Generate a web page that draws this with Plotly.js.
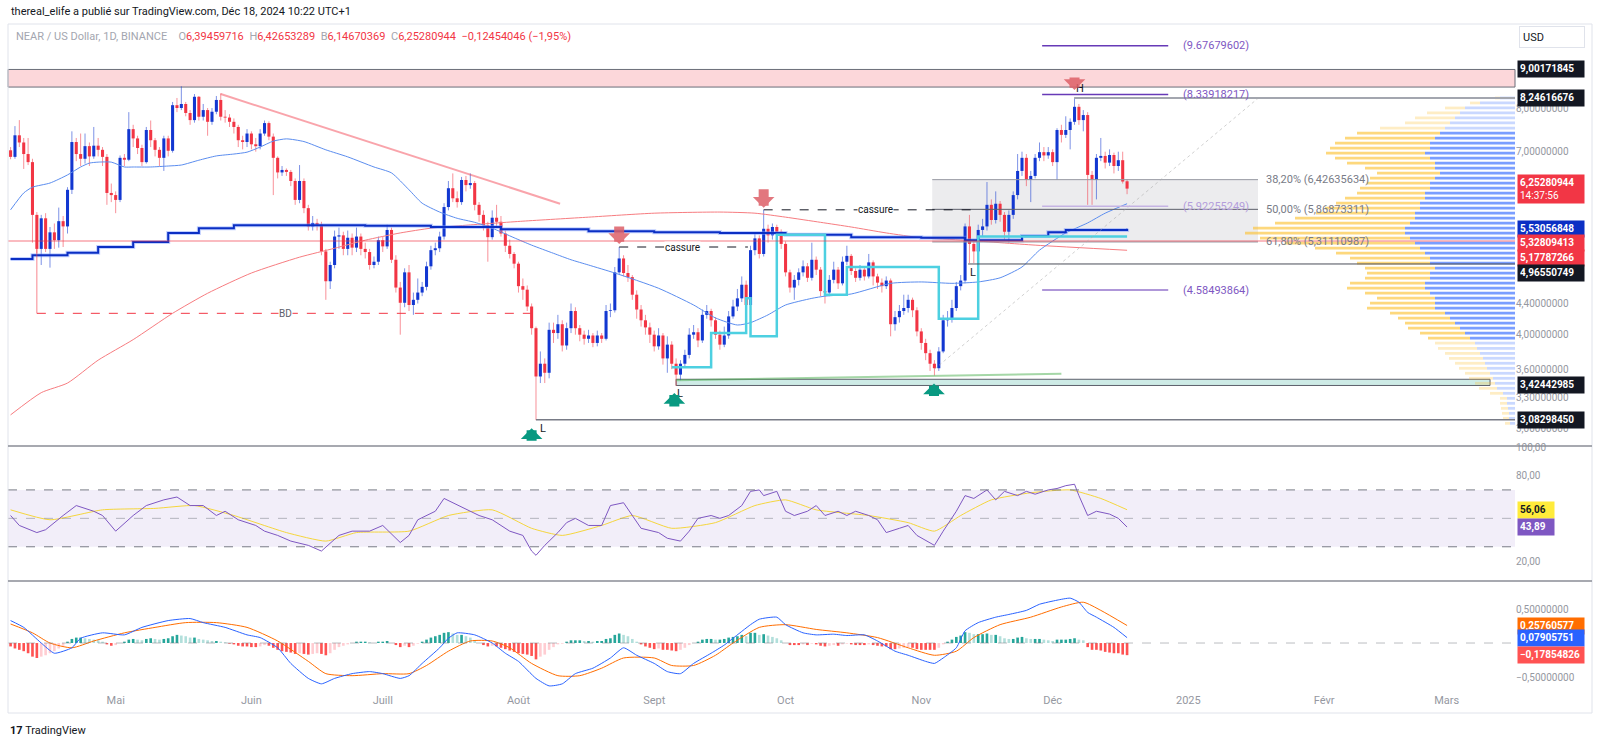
<!DOCTYPE html>
<html>
<head>
<meta charset="utf-8">
<script src="https://cdn.plot.ly/plotly-3.0.1.min.js"></script>
<style>
  html, body { margin: 0; padding: 0; background: #ffffff; }
  #chart { width: 1600px; height: 744px; }
</style>
</head>
<body>
<div id="chart"></div>
<script>
// NEAR/USD daily candles, first candle 2024-04-07, last 2024-12-18
const opens = [
  7.03,6.89,7.36,7.20,6.95,6.78,5.77,5.20,5.71,5.20, 5.47,5.34,5.66,5.57,6.23,7.21,6.95,6.85,7.12,6.90,
  7.13,7.04,6.89,6.17,6.13,6.04,6.87,6.83,7.50,7.29, 7.08,6.78,7.48,7.25,7.04,6.87,7.29,7.02,8.07,8.00,
  8.10,7.88,7.71,8.28,7.79,7.95,7.67,7.91,8.20,7.79, 7.77,7.67,7.55,7.25,7.21,7.40,7.16,7.12,7.40,7.64,
  7.33,6.87,6.57,6.62,6.58,6.40,6.04,6.40,5.89,5.57, 5.63,5.60,5.16,4.71,4.95,5.40,5.42,5.20,5.38,5.22,
  5.40,5.20,5.15,4.95,5.00,5.34,5.24,5.51,5.03,4.62, 4.41,4.84,4.38,4.45,4.55,4.63,4.93,5.18,5.21,5.40,
  5.91,6.26,6.07,6.00,6.42,6.32,6.36,5.95,5.77,5.59, 5.39,5.72,5.65,5.45,5.25,5.12,4.97,4.64,4.59,4.36,
  4.08,3.52,3.66,3.56,4.06,4.02,4.13,3.87,4.08,4.30, 4.08,4.00,3.95,3.99,3.90,3.99,3.95,4.30,4.31,4.84,
  5.05,4.83,4.77,4.52,4.32,4.18,4.09,4.00,3.86,3.99, 3.72,3.88,3.66,3.54,3.66,3.76,4.00,4.03,3.93,4.25,
  4.30,4.18,4.00,3.88,3.99,4.23,4.36,4.47,4.66,4.38, 5.18,5.37,5.12,5.53,5.42,5.56,5.48,5.28,4.84,4.62,
  4.73,4.84,4.93,4.76,5.03,4.88,4.57,4.55,4.73,4.88, 4.68,5.00,5.09,4.86,4.76,4.88,4.78,4.99,4.78,4.69,
  4.64,4.72,4.13,4.22,4.30,4.34,4.45,4.31,4.04,3.90, 3.78,3.66,3.61,3.80,4.18,4.20,4.34,4.64,4.72,5.57,
  5.28,5.16,5.51,5.57,5.95,5.68,5.97,5.77,5.48,5.77, 6.13,6.60,6.87,6.42,6.50,6.87,6.99,6.92,6.99,6.78,
  7.48,7.37,7.48,7.67,8.03,7.71,7.83,6.52,6.42,6.87, 6.91,6.77,6.93,6.70,6.82,6.39459716
];
const highs = [
  7.10,7.57,7.71,7.30,7.30,6.85,5.82,5.77,5.80,5.56, 5.62,5.90,5.75,6.28,7.45,7.30,7.40,7.40,7.20,7.55,
  7.30,7.10,6.95,6.35,6.20,6.92,6.95,7.90,7.60,7.35, 7.15,7.55,7.70,7.30,7.10,7.35,7.35,8.15,8.25,8.55,
  8.15,7.95,8.35,8.30,8.10,8.00,8.00,8.30,8.37,7.95, 7.85,7.75,7.60,7.35,7.50,7.45,7.30,7.50,7.70,7.68,
  7.40,6.90,6.70,6.65,6.62,6.45,6.72,6.45,5.95,5.75, 5.70,5.65,5.20,5.00,5.50,5.55,5.48,5.50,5.45,5.55,
  5.45,5.30,5.20,5.08,5.40,5.40,5.60,5.55,5.10,4.70, 4.90,4.95,4.55,4.75,4.70,5.00,5.25,5.30,5.48,5.98,
  6.40,6.55,6.20,6.48,6.50,6.55,6.40,6.00,5.85,5.65, 5.85,5.95,5.75,5.50,5.35,5.15,5.00,4.75,4.65,4.40,
  4.10,3.80,3.72,4.15,4.15,4.25,4.18,4.15,4.40,4.35, 4.12,4.05,4.06,4.02,4.05,4.02,4.38,4.40,4.92,5.23,
  5.10,4.95,4.80,4.58,4.38,4.25,4.15,4.05,4.08,4.02, 3.98,3.92,3.72,3.70,3.82,4.08,4.12,4.08,4.32,4.38,
  4.33,4.22,4.05,4.10,4.30,4.45,4.60,4.78,4.72,5.25, 5.45,5.42,5.86,5.60,5.62,5.60,5.52,5.32,4.88,4.80,
  4.90,5.02,4.98,5.30,5.08,4.92,4.68,4.80,5.00,4.92, 5.08,5.25,5.12,4.90,4.95,4.92,5.12,5.02,4.82,4.75,
  4.78,4.75,4.30,4.38,4.52,4.52,4.48,4.35,4.08,3.95, 3.82,3.70,3.85,4.25,4.30,4.45,4.70,4.80,5.62,5.77,
  5.35,5.60,5.70,6.38,6.05,6.20,6.02,5.82,5.85,6.20, 6.95,7.00,6.95,6.60,6.95,7.20,7.10,7.10,7.05,7.52,
  7.60,7.80,7.75,8.25,8.10,7.95,7.90,6.60,6.95,7.30, 7.00,7.05,6.98,7.00,7.00,6.42653289
];
const lows = [
  6.84,6.85,7.10,6.64,6.72,5.30,5.13,4.95,5.15,4.91, 5.20,5.22,5.23,5.45,6.15,6.80,6.70,6.75,6.70,6.85,
  6.90,6.70,5.95,6.00,5.80,6.00,6.70,6.80,7.10,6.95, 6.70,6.75,7.10,6.90,6.70,6.60,6.90,6.98,7.90,7.95,
  7.80,7.60,7.65,7.70,7.70,7.35,7.60,7.85,7.70,7.65, 7.55,7.40,7.10,7.05,7.10,7.05,7.00,7.05,7.35,7.25,
  6.13,6.45,6.50,6.50,6.30,5.95,5.98,5.80,5.50,5.50, 5.50,5.10,4.45,4.60,4.90,5.20,5.10,5.10,5.10,5.15,
  5.10,5.05,4.88,4.90,4.95,5.15,5.20,4.98,4.55,4.00, 4.35,4.30,4.25,4.40,4.50,4.58,4.88,5.10,5.15,5.35,
  5.85,6.00,5.90,5.95,6.20,6.25,5.85,5.65,5.50,5.00, 5.35,5.55,5.40,5.15,5.05,4.90,4.55,4.45,4.30,4.00,
  3.08,3.45,3.45,3.50,3.90,3.95,3.80,3.82,4.02,4.00, 3.92,3.88,3.90,3.85,3.86,3.90,3.93,4.22,4.28,4.80,
  4.78,4.70,4.45,4.20,4.10,4.00,3.90,3.80,3.82,3.65, 3.56,3.60,3.42,3.48,3.62,3.72,3.95,3.85,3.90,4.20,
  4.10,3.95,3.82,3.85,3.95,4.20,4.30,4.42,4.30,4.35, 5.10,5.05,5.08,5.30,5.35,5.40,5.20,4.78,4.55,4.45,
  4.65,4.78,4.70,4.72,4.80,4.50,4.40,4.50,4.68,4.60, 4.65,4.95,4.80,4.70,4.72,4.72,4.75,4.65,4.60,4.55,
  4.60,3.98,4.05,4.15,4.25,4.28,4.22,3.98,3.82,3.70, 3.58,3.53,3.58,3.78,4.10,4.15,4.30,4.58,4.68,4.98,
  4.98,5.10,5.40,5.50,5.60,5.62,5.65,5.35,5.30,5.70, 6.05,6.50,6.30,6.00,6.45,6.80,6.80,6.85,6.70,6.42,
  7.20,7.30,7.05,7.60,7.60,7.45,5.95,5.95,6.05,6.80, 6.65,6.70,6.55,6.60,6.35,6.14670369
];
const closes = [
  6.89,7.36,7.20,6.95,6.78,5.77,5.20,5.71,5.20,5.47, 5.34,5.66,5.57,6.23,7.21,6.95,6.85,7.12,6.90,7.13,
  7.04,6.89,6.17,6.13,6.04,6.87,6.83,7.50,7.29,7.08, 6.78,7.48,7.25,7.04,6.87,7.29,7.02,8.07,8.00,8.10,
  7.88,7.71,8.28,7.79,7.95,7.67,7.91,8.20,7.79,7.77, 7.67,7.55,7.25,7.21,7.40,7.16,7.12,7.40,7.64,7.33,
  6.87,6.57,6.62,6.58,6.40,6.04,6.40,5.89,5.57,5.63, 5.60,5.16,4.71,4.95,5.40,5.42,5.20,5.38,5.22,5.40,
  5.20,5.15,4.95,5.00,5.34,5.24,5.51,5.03,4.62,4.41, 4.84,4.38,4.45,4.55,4.63,4.93,5.18,5.21,5.40,5.91,
  6.26,6.07,6.00,6.42,6.32,6.36,5.95,5.77,5.59,5.39, 5.72,5.65,5.45,5.25,5.12,4.97,4.64,4.59,4.36,4.08,
  3.52,3.66,3.56,4.06,4.02,4.13,3.87,4.08,4.30,4.08, 4.00,3.95,3.99,3.90,3.99,3.95,4.30,4.31,4.84,5.05,
  4.83,4.77,4.52,4.32,4.18,4.09,4.00,3.86,3.99,3.72, 3.88,3.66,3.54,3.66,3.76,4.00,4.03,3.93,4.25,4.30,
  4.18,4.00,3.88,3.99,4.23,4.36,4.47,4.66,4.38,5.18, 5.37,5.12,5.53,5.42,5.56,5.48,5.28,4.84,4.62,4.73,
  4.84,4.93,4.76,5.03,4.88,4.57,4.55,4.73,4.88,4.68, 5.00,5.09,4.86,4.76,4.88,4.78,4.99,4.78,4.69,4.64,
  4.72,4.13,4.22,4.30,4.34,4.45,4.31,4.04,3.90,3.78, 3.66,3.61,3.80,4.18,4.20,4.34,4.64,4.72,5.57,5.28,
  5.16,5.51,5.57,5.95,5.68,5.97,5.77,5.48,5.77,6.13, 6.60,6.87,6.42,6.50,6.87,6.99,6.92,6.99,6.78,7.48,
  7.37,7.48,7.67,8.03,7.71,7.83,6.52,6.42,6.87,6.91, 6.77,6.93,6.70,6.82,6.39,6.25280944
];

// moving averages (day index from first candle, value)
const ma50Days = [0,3,5,9,13,16,18,20,23,26,28,32,36,39,43,47,51,54,57,60,63,67,72,77,83,87,91,94,98,102,106,110,115,119,124,128,132,138,148,156,161,166,169,173,177,183,186,192,201,208,215,221,226,231,235,241,246,250,255];
const ma50Vals = [5.86,6.17,6.28,6.36,6.52,6.68,6.76,6.78,6.78,6.68,6.68,6.68,6.70,6.72,6.82,6.91,6.95,6.99,7.10,7.23,7.28,7.22,7.04,6.89,6.68,6.56,6.23,5.98,5.82,5.71,5.64,5.54,5.38,5.26,5.13,5.03,4.95,4.83,4.61,4.38,4.21,4.12,4.15,4.25,4.38,4.47,4.50,4.53,4.68,4.70,4.68,4.70,4.76,4.92,5.18,5.46,5.63,5.80,5.97];
const ma200Days = [0,7,13,20,28,37,45,55,66,74,81,89,96,104,117,132,147,162,170,177,185,192,200,208,218,234,255];
const ma200Vals = [3.13,3.35,3.45,3.70,3.94,4.27,4.54,4.83,5.07,5.21,5.34,5.46,5.54,5.59,5.66,5.73,5.80,5.82,5.80,5.73,5.64,5.56,5.46,5.38,5.34,5.26,5.17787266];
const stepDays = [0,5,13,20,28,36,43,51,66,81,96,112,132,147,162,177,192,208,218,231,237,241,255];
const stepVals = [5.04,5.10,5.14,5.23,5.31,5.46,5.54,5.59,5.59,5.58,5.56,5.52,5.49,5.47,5.46,5.43,5.39,5.38,5.34,5.41,5.47,5.51,5.53056848];
const cyanDays = [151,160,168,169,175,186,191,212,221,255];
const cyanVals = [3.62,4.02,4.47,3.98,5.43,4.52,4.92,4.20,5.40,5.40];

// RSI pane
const rsiDays = [0,2,6,8,12,15,19,21,24,28,31,35,38,41,44,47,49,52,56,58,61,64,68,71,75,78,82,85,89,91,93,97,99,101,104,107,110,112,114,117,119,120,122,125,127,129,132,135,137,140,142,144,148,150,153,155,157,160,162,164,167,169,171,172,175,177,179,182,184,186,189,191,193,196,198,200,203,205,207,210,211,213,216,218,220,223,225,227,230,232,234,237,239,241,243,244,246,248,251,253,255];
const rsiVals = [52,45,40,42,52,59,55,52,41,52,59,63,65,59,59,52,55,49,45,41,38,34,31,27,38,41,41,45,33,38,49,55,64,61,57,52,49,45,41,38,27,24,31,40,47,50,45,45,59,61,52,43,40,36,34,41,50,52,50,52,59,69,70,66,69,55,52,55,59,52,55,52,55,52,49,40,43,45,38,33,31,41,55,66,64,70,63,69,66,69,67,70,71,73,74,66,52,55,53,50,43.89];
const rsiMaDays = [0,9,21,33,42,51,63,72,79,91,100,110,119,126,135,142,151,161,170,177,184,196,205,211,217,224,233,242,249,255];
const rsiMaVals = [56,49,56,57,59,52,40,34,40,41,52,56,43,38,45,52,43,47,59,63,56,52,47,41,52,63,68,70,64,56.06];

// MACD pane
const macdDays = [0,3,7,10,14,16,21,26,30,36,41,44,49,54,57,61,64,68,71,74,78,82,85,89,91,94,98,100,102,106,110,113,116,120,123,126,129,133,137,140,143,147,150,153,156,160,163,165,169,171,175,177,181,184,188,191,195,198,202,205,209,211,213,216,218,221,225,228,232,235,239,242,244,246,248,252,255];
const macdVals = [0.33,0.23,0.0,-0.15,-0.07,0.07,0.15,0.12,0.23,0.33,0.36,0.30,0.23,0.12,0.08,-0.07,-0.30,-0.52,-0.60,-0.52,-0.45,-0.42,-0.45,-0.52,-0.48,-0.30,-0.07,0.07,0.15,0.12,0.0,-0.15,-0.27,-0.52,-0.63,-0.60,-0.45,-0.37,-0.22,-0.07,-0.18,-0.30,-0.42,-0.45,-0.30,-0.15,-0.03,0.07,0.27,0.35,0.38,0.27,0.15,0.12,0.13,0.11,0.12,0.03,-0.12,-0.18,-0.27,-0.30,-0.22,-0.07,0.18,0.30,0.38,0.42,0.48,0.57,0.63,0.66,0.60,0.45,0.38,0.23,0.07905751];
const signalDays = [0,5,9,14,19,26,33,40,47,54,61,68,72,78,85,91,95,100,105,110,114,119,125,130,135,140,147,151,156,161,165,171,177,184,191,198,205,211,216,220,226,233,240,245,249,255];
const signalVals = [0.28,0.15,0.0,-0.07,0.03,0.15,0.23,0.30,0.30,0.23,0.03,-0.27,-0.45,-0.48,-0.45,-0.45,-0.33,-0.12,0.03,0.03,-0.07,-0.30,-0.48,-0.48,-0.37,-0.22,-0.22,-0.33,-0.33,-0.18,0.0,0.23,0.27,0.20,0.15,0.08,-0.07,-0.18,-0.12,0.08,0.27,0.38,0.53,0.60,0.48,0.25760577];
const histVals = [
  -0.05,-0.08,-0.1,-0.12,-0.15,-0.2,-0.22,-0.2,-0.18,-0.15, -0.12,-0.08,-0.04,0.02,0.06,0.08,0.08,0.07,0.06,0.05,
  0.04,0.02,-0.02,-0.04,-0.03,0.0,0.02,0.05,0.06,0.05, 0.04,0.06,0.07,0.06,0.05,0.06,0.07,0.1,0.12,0.11,
  0.1,0.08,0.08,0.06,0.05,0.04,0.03,0.03,0.02,0.01, -0.01,-0.02,-0.04,-0.05,-0.05,-0.06,-0.06,-0.05,-0.03,-0.04,
  -0.07,-0.1,-0.12,-0.13,-0.14,-0.16,-0.15,-0.16,-0.17,-0.16, -0.15,-0.16,-0.18,-0.15,-0.1,-0.06,-0.04,-0.02,0.0,0.02,
  0.02,0.02,0.01,0.0,0.02,0.02,0.03,0.0,-0.03,-0.06, -0.04,-0.06,-0.04,-0.01,0.02,0.05,0.08,0.1,0.12,0.15,
  0.16,0.14,0.12,0.12,0.1,0.08,0.04,0.0,-0.03,-0.05, -0.04,-0.05,-0.07,-0.09,-0.11,-0.13,-0.15,-0.16,-0.17,-0.19,
  -0.24,-0.2,-0.17,-0.1,-0.06,-0.02,-0.01,0.02,0.04,0.04, 0.04,0.03,0.03,0.02,0.03,0.03,0.06,0.07,0.12,0.14,
  0.12,0.1,0.06,0.02,-0.02,-0.05,-0.07,-0.09,-0.08,-0.1, -0.1,-0.11,-0.12,-0.1,-0.07,-0.03,0.0,0.02,0.05,0.06,
  0.06,0.05,0.05,0.06,0.08,0.09,0.1,0.12,0.1,0.15, 0.15,0.12,0.13,0.11,0.09,0.07,0.04,0.0,-0.03,-0.03,
  -0.03,-0.02,-0.03,-0.01,-0.02,-0.04,-0.05,-0.04,-0.03,-0.04, -0.02,-0.01,-0.02,-0.03,-0.03,-0.03,-0.02,-0.03,-0.04,-0.05,
  -0.05,-0.09,-0.09,-0.08,-0.07,-0.06,-0.07,-0.09,-0.1,-0.1, -0.1,-0.1,-0.07,-0.02,0.02,0.05,0.09,0.11,0.16,0.15,
  0.13,0.13,0.13,0.14,0.12,0.12,0.1,0.07,0.06,0.06, 0.08,0.09,0.07,0.06,0.06,0.06,0.05,0.04,0.03,0.05,
  0.05,0.05,0.06,0.07,0.05,0.04,-0.06,-0.1,-0.1,-0.11, -0.13,-0.14,-0.15,-0.15,-0.17,-0.17854826
];

// visible range volume profile, rows from 8.25 (top) down to 3.05
const profTotal = [20,45,70,88,100,110,135,158,170,180,185,189,180,168,150,138,145,148,155,158,170,179,190,199,220,240,262,270,255,230,200,179,165,158,150,148,150,165,168,150,138,145,148,125,117,110,107,95,87,80,77,70,66,60,56,50,46,40,36,25,15,15,14,13,12,10];
const profBlue = [15,35,50,55,60,65,70,75,80,85,85,90,85,80,80,75,80,85,85,90,90,95,95,100,100,105,110,110,105,100,95,90,85,85,80,85,85,90,90,85,80,80,80,70,65,60,55,50,45,40,38,35,32,30,28,25,22,20,18,12,8,8,7,6,6,5];

// price levels drawn on the chart
const zoneTop = 9.00171845, zoneBottom = 8.53;
const highLevel = 8.24616676, lowLevel = 3.08298450, nLowLevel = 4.96550749;
const supportTop = 3.49, supportBottom = 3.42442985;
const pinkLevel = 5.32809413, bdLevel = 4.27;
const fibLevels = [6.42635634, 5.86873311, 5.31110987];
const fibLabels = ['38,20% (6,42635634)', '50,00% (5,86873311)', '61,80% (5,31110987)'];
const targetLevels = [9.67679602, 8.33918217, 5.92255249, 4.58493864];
const targetColors = ['#673ab7', '#673ab7', '#c5b4e3', '#9575cd'];
const cassure = [[139, 168.4, 5.23], [172, 221, 5.86]];

const monthTicks = ['2024-05-01','2024-06-01','2024-07-01','2024-08-01','2024-09-01','2024-10-01','2024-11-01','2024-12-01','2025-01-01','2025-02-01','2025-03-01'];
const monthNames = ['Mai','Juin','Juill','Août','Sept','Oct','Nov','Déc','2025','Févr','Mars'];

// ---------------------------------------------------------------
const FONT = 'Roboto, "DejaVu Sans", sans-serif';
const DAY = 86400000;
const T0 = Date.UTC(2024, 3, 7);
const dayDate = d => new Date(T0 + d * DAY).toISOString().slice(0, 16).replace('T', ' ');
const lg = v => Math.log10(v);
const fmt = (v, n) => (v < 0 ? '\u2212' : '') + Math.abs(v).toFixed(n).replace('.', ',');

const LOG_MIN = 0.4542, LOG_MAX = 1.0147;
const RIGHT_DAY = 343.6;
const dates = opens.map((_, i) => dayDate(i));

const traces = [];

// wicks
['up', 'down'].forEach(side => {
  const xs = [], ys = [];
  opens.forEach((o, i) => {
    if ((closes[i] >= o) === (side === 'up')) {
      xs.push(dates[i], dates[i], null);
      ys.push(lows[i], highs[i], null);
    }
  });
  traces.push({
    type: 'scatter', mode: 'lines', x: xs, y: ys, xaxis: 'x', yaxis: 'y',
    line: {color: side === 'up' ? 'rgba(19,56,209,0.55)' : 'rgba(242,54,69,0.55)', width: 1},
    hoverinfo: 'skip'
  });
});

// moving averages
traces.push({type: 'scatter', mode: 'lines', x: ma200Days.map(dayDate), y: ma200Vals,
  line: {color: '#f77c80', width: 1, shape: 'spline', smoothing: 0.6}});
traces.push({type: 'scatter', mode: 'lines', x: ma50Days.map(dayDate), y: ma50Vals,
  line: {color: '#5b8def', width: 1, shape: 'spline', smoothing: 0.6}});
traces.push({type: 'scatter', mode: 'lines', x: stepDays.map(dayDate), y: stepVals,
  line: {color: 'rgba(120,150,255,0.45)', width: 4, shape: 'hv'}});
traces.push({type: 'scatter', mode: 'lines', x: stepDays.map(dayDate), y: stepVals,
  line: {color: '#0b2fc4', width: 2, shape: 'hv'}});
traces.push({type: 'scatter', mode: 'lines', x: cyanDays.map(dayDate), y: cyanVals,
  line: {color: '#4dd0e1', width: 2.5, shape: 'hv'}});

// candle bodies
traces.push({
  type: 'bar', x: dates, base: opens, y: closes.map((c, i) => c - opens[i]),
  width: 0.7 * DAY, xaxis: 'x', yaxis: 'y',
  marker: {color: closes.map((c, i) => c >= opens[i] ? '#1338d1' : '#f23645'), line: {width: 0}}
});

// volume profile (x2 grows leftwards from the price scale): blue part next to the scale, yellow beyond it
const rows = profTotal.length;
const rowTop = lg(8.25), rowBottom = lg(3.05);
const rowStep = (rowTop - rowBottom) / (rows - 1);
const rowY = profTotal.map((_, i) => rowTop - i * rowStep);
const inValueArea = i => i >= 7 && i <= 48;
traces.push({type: 'bar', orientation: 'h', x: profBlue, y: rowY, xaxis: 'x2', yaxis: 'y4',
  width: rowStep * 0.55,
  marker: {color: rowY.map((_, i) => inValueArea(i) ? 'rgba(41,98,255,0.62)' : 'rgba(41,98,255,0.25)'), line: {width: 0}}});
traces.push({type: 'bar', orientation: 'h', x: profTotal.map((t, i) => t - profBlue[i]), base: profBlue, y: rowY,
  xaxis: 'x2', yaxis: 'y4', width: rowStep * 0.55,
  marker: {color: rowY.map((_, i) => inValueArea(i) ? 'rgba(251,192,45,0.62)' : 'rgba(251,192,45,0.28)'), line: {width: 0}}});

// RSI
traces.push({type: 'scatter', mode: 'lines', x: rsiMaDays.map(dayDate), y: rsiMaVals, xaxis: 'x', yaxis: 'y2',
  line: {color: '#f5d63d', width: 1, shape: 'spline', smoothing: 0.5}});
traces.push({type: 'scatter', mode: 'lines', x: rsiDays.map(dayDate), y: rsiVals, xaxis: 'x', yaxis: 'y2',
  line: {color: '#7e57c2', width: 1}});

// MACD
traces.push({type: 'bar', x: dates, y: histVals, xaxis: 'x', yaxis: 'y3', width: 0.6 * DAY,
  marker: {line: {width: 0}, color: histVals.map((h, i) => {
    const prev = i > 0 ? histVals[i - 1] : h;
    if (h >= 0) return h >= prev ? '#26a69a' : '#b2dfdb';
    return h <= prev ? '#ff5252' : '#ffcdd2';
  })}});
traces.push({type: 'scatter', mode: 'lines', x: signalDays.map(dayDate), y: signalVals, xaxis: 'x', yaxis: 'y3',
  line: {color: '#ff6d00', width: 1, shape: 'spline', smoothing: 0.6}});
traces.push({type: 'scatter', mode: 'lines', x: macdDays.map(dayDate), y: macdVals, xaxis: 'x', yaxis: 'y3',
  line: {color: '#2962ff', width: 1, shape: 'spline', smoothing: 0.5}});

// ---------------------------------------------------------------
// price-pane shapes live on y4: a linear axis in log10(price) units laid over the log price axis
const shapes = [];
const hline = (d0, d1, v, color, width, dash) => shapes.push({type: 'line', xref: 'x', yref: 'y4',
  x0: dayDate(d0), x1: dayDate(d1), y0: lg(v), y1: lg(v), line: {color, width, dash: dash || 'solid'}});
const seg = (d0, v0, d1, v1, color, width, dash) => shapes.push({type: 'line', xref: 'x', yref: 'y4',
  x0: dayDate(d0), x1: dayDate(d1), y0: lg(v0), y1: lg(v1), line: {color, width, dash: dash || 'solid'}});

shapes.push({type: 'rect', layer: 'below', xref: 'paper', yref: 'y4', x0: 0, x1: 1,
  y0: lg(zoneBottom), y1: lg(zoneTop), fillcolor: 'rgba(242,54,69,0.2)', line: {color: '#6a6d78', width: 1}});
shapes.push({type: 'rect', layer: 'below', xref: 'x', yref: 'y4', x0: dayDate(210.5), x1: dayDate(284.9),
  y0: lg(fibLevels[2]), y1: lg(fibLevels[0]), fillcolor: 'rgba(120,123,134,0.14)', line: {width: 0}});
shapes.push({type: 'rect', layer: 'below', xref: 'x', yref: 'y4', x0: dayDate(152), x1: dayDate(337.9),
  y0: lg(supportBottom), y1: lg(supportTop), fillcolor: 'rgba(8,153,129,0.2)', line: {color: '#5d606b', width: 1}});
fibLevels.forEach((v, i) => hline(210.5, 284.9, v, i === 1 ? '#5d606b' : '#9598a1', 1));

hline(-1, RIGHT_DAY, pinkLevel, 'rgba(242,54,69,0.45)', 1.5);
seg(48, 8.35, 125.5, 5.97, 'rgba(242,54,69,0.45)', 2);
hline(6, 119.3, bdLevel, '#f23645', 1, 'dash');
seg(6, 5.20, 6, bdLevel, 'rgba(242,54,69,0.6)', 1);
hline(120, RIGHT_DAY, lowLevel, '#787b86', 1.5);
hline(242.9, RIGHT_DAY, highLevel, '#a3a6af', 2);
hline(218.7, RIGHT_DAY, nLowLevel, '#4a4d57', 1);
seg(152, 3.48, 240, 3.55, 'rgba(76,175,80,0.5)', 2);
seg(211, 3.60, 285, 8.25, 'rgba(170,170,170,0.55)', 1, 'dot');
cassure.forEach(c => hline(c[0], c[1], c[2], '#131722', 1, 'dash'));
targetLevels.forEach((v, i) => hline(235.6, 264.4, v, targetColors[i], 1.5));

// RSI band & MACD zero
shapes.push({type: 'rect', layer: 'below', xref: 'paper', yref: 'y2', x0: 0, x1: 1, y0: 30, y1: 70,
  fillcolor: 'rgba(126,87,194,0.1)', line: {width: 0}});
[70, 30].forEach(v => shapes.push({type: 'line', xref: 'paper', yref: 'y2', x0: 0, x1: 1, y0: v, y1: v,
  line: {color: '#787b86', width: 1, dash: 'dash'}}));
shapes.push({type: 'line', xref: 'paper', yref: 'y2', x0: 0, x1: 1, y0: 50, y1: 50,
  line: {color: 'rgba(120,123,134,0.5)', width: 1, dash: 'dash'}});
shapes.push({type: 'line', xref: 'paper', yref: 'y3', x0: 0, x1: 1, y0: 0, y1: 0,
  line: {color: 'rgba(120,123,134,0.5)', width: 1, dash: 'dash'}});

// panel frame and pane separators (paper units: 1507 x 668 px plot)
const PW = 1507, PH = 668;
const pxX = p => (p - 8) / PW, pxY = p => (692 - p) / PH;
shapes.push({type: 'rect', xref: 'paper', yref: 'paper', x0: pxX(8), x1: pxX(1592), y0: pxY(713), y1: pxY(24),
  line: {color: '#e0e3eb', width: 1}});
[446, 581].forEach(p => shapes.push({type: 'line', xref: 'paper', yref: 'paper', x0: pxX(8), x1: pxX(1592),
  y0: pxY(p), y1: pxY(p), line: {color: '#8a8d96', width: 1.5}}));

// ---------------------------------------------------------------
const notes = [];
const txt = (d, v, text, opt) => notes.push(Object.assign({xref: 'x', yref: 'y4', x: dayDate(d), y: lg(v), text,
  showarrow: false, font: {family: FONT, size: 10, color: '#131722'}}, opt || {}));

fibLabels.forEach((t, i) => txt(286.3, fibLevels[i], t, {xanchor: 'left', font: {family: FONT, size: 11, color: '#787b86'}}));
targetLevels.forEach((v, i) => txt(267.4, v, '(' + v.toFixed(8) + ')',
  {xanchor: 'left', font: {family: FONT, size: 11, color: i === 2 ? '#b39ddb' : '#7e57c2'}}));
txt(153.5, cassure[0][2], 'cassure', {bgcolor: '#ffffff', borderpad: 0});
txt(197.5, cassure[1][2], 'cassure', {bgcolor: '#ffffff', borderpad: 0});
txt(62.9, bdLevel, 'BD', {bgcolor: '#ffffff', borderpad: 0, font: {family: FONT, size: 10, color: '#5d606b'}});
txt(244.2, highLevel, 'H', {yshift: 10, font: {family: FONT, size: 11, color: '#131722'}});
txt(120, lowLevel, 'L', {xshift: 7, yshift: -9, font: {family: FONT, size: 11, color: '#131722'}});
txt(152.9, supportBottom, 'L', {yshift: -8, font: {family: FONT, size: 11, color: '#131722'}});
txt(219.8, nLowLevel, 'L', {yshift: -9, font: {family: FONT, size: 11, color: '#131722'}});

const arrow = (d, v, down, standoff) => notes.push({xref: 'x', yref: 'y4', x: dayDate(d), y: lg(v), text: '',
  showarrow: true, ax: 0, ay: down ? -22 : 22, arrowhead: 1, arrowsize: 0.36, arrowwidth: 10, standoff,
  arrowcolor: down ? 'rgba(222,96,104,0.85)' : '#089981'});
arrow(139, 5.23, true, 3);
arrow(172, 5.86, true, 2);
arrow(243, 8.25, true, 8);
arrow(119, 3.08, false, 8);
arrow(151.6, 3.42, false, 7);
arrow(210.9, 3.53, false, 8);

// price scale badges (stacked like TradingView when they collide)
const pricePx = v => 24 + (LOG_MAX - lg(v)) / (LOG_MAX - LOG_MIN) * 422;
const badges = [
  [9.00171845, '#131722', 1], [8.24616676, '#131722', 1], [6.25280944, '#f23645', 2],
  [5.53056848, '#0b2fc4', 1], [5.32809413, '#f23645', 1], [5.17787266, '#f23645', 1],
  [4.96550749, '#131722', 1], [3.42442985, '#131722', 1], [3.08298450, '#131722', 1]
];
let lastBottom = -1e9;
badges.forEach(([v, bg, lines]) => {
  const half = lines === 2 ? 12.5 : 7.3;
  const natural = pricePx(v);
  const placed = Math.max(natural, lastBottom + half);
  lastBottom = placed + half;
  notes.push({xref: 'paper', x: 1, xanchor: 'left', xshift: 2, yref: 'y4', y: lg(v), yshift: natural - placed,
    text: lines === 2 ? '<b>' + fmt(v, 8) + '</b><br>14:37:56' : '<b>' + fmt(v, 8) + '</b>',
    showarrow: false, bgcolor: bg, borderpad: 2, width: 62, align: 'left',
    font: {family: FONT, size: 10, color: '#ffffff'}});
});
const sideBadge = (yref, v, text, bg, fg) => notes.push({xref: 'paper', x: 1, xanchor: 'left', xshift: 2,
  yref, y: v, text: '<b>' + text + '</b>', showarrow: false, bgcolor: bg, borderpad: 2,
  width: yref === 'y2' ? 32 : 62, align: 'left', font: {family: FONT, size: 10, color: fg}});
sideBadge('y2', 56.06, '56,06', '#ffeb3b', '#131722');
sideBadge('y2', 43.89, '43,89', '#7e57c2', '#ffffff');
sideBadge('y3', 0.25760577, fmt(0.25760577, 8), '#ff6d00', '#ffffff');
sideBadge('y3', 0.07905751, fmt(0.07905751, 8), '#2962ff', '#ffffff');
sideBadge('y3', -0.17854826, fmt(-0.17854826, 8), '#ff5252', '#ffffff');

// header, legend, currency box, logo
notes.push({xref: 'paper', yref: 'paper', x: pxX(9), y: pxY(12), xanchor: 'left', yanchor: 'middle', showarrow: false,
  text: 'thereal_elife a publié sur TradingView.com, Déc 18, 2024 10:22 UTC+1',
  font: {family: FONT, size: 11, color: '#131722'}});
const red = s => '<span style="color:#f23645">' + s + '</span>';
notes.push({xref: 'paper', yref: 'paper', x: pxX(14), y: pxY(36), xanchor: 'left', yanchor: 'middle', showarrow: false,
  text: 'NEAR / US Dollar, 1D, BINANCE\u2003O' + red('6,39459716') + '\u2002H' + red('6,42653289') +
        '\u2002B' + red('6,14670369') + '\u2002C' + red('6,25280944') + '\u2002' + red('\u22120,12454046 (\u22121,95%)'),
  font: {family: FONT, size: 11, color: '#a3a6af'}});
notes.push({xref: 'paper', yref: 'paper', x: pxX(1519), y: pxY(37), xanchor: 'left', yanchor: 'middle', showarrow: false,
  text: 'USD', width: 58, height: 14, align: 'left', borderpad: 3, bordercolor: '#e0e3eb', borderwidth: 1,
  font: {family: FONT, size: 11, color: '#131722'}});
notes.push({xref: 'paper', yref: 'paper', x: pxX(8), y: pxY(730), xanchor: 'left', yanchor: 'middle', showarrow: false,
  text: '<b>17</b> TradingView', font: {family: FONT, size: 11, color: '#131722'}});

// ---------------------------------------------------------------
const axisFont = {family: FONT, size: 10, color: '#9598a1'};
const priceTicks = [3.0, 3.3, 3.6, 4.0, 4.4, 7.0, 8.0];
const layout = {
  width: 1600, height: 744,
  margin: {l: 8, r: 85, t: 24, b: 52},
  paper_bgcolor: '#ffffff', plot_bgcolor: '#ffffff',
  showlegend: false, hovermode: false, barmode: 'overlay',
  font: {family: FONT, size: 11, color: '#131722'},
  xaxis: {type: 'date', range: [dayDate(-0.59), dayDate(RIGHT_DAY)], anchor: 'y3',
    showgrid: false, zeroline: false, showline: false, ticks: '',
    tickmode: 'array', tickvals: monthTicks, ticktext: monthNames,
    tickfont: {family: FONT, size: 11, color: '#9598a1'}},
  xaxis2: {overlaying: 'x', range: [PW, 0], visible: false, anchor: 'y4'},
  yaxis: {domain: [pxY(446), 1], type: 'log', range: [LOG_MIN, LOG_MAX], side: 'right', anchor: 'x',
    showgrid: false, zeroline: false, ticks: '', tickmode: 'array', tickvals: priceTicks,
    ticktext: priceTicks.map(v => fmt(v, 8)), tickfont: axisFont},
  yaxis2: {domain: [pxY(581), pxY(446)], range: [5.93, 100.9], side: 'right', anchor: 'x',
    showgrid: false, zeroline: false, ticks: '', tickmode: 'array', tickvals: [20, 80, 100],
    ticktext: ['20,00', '80,00', '100,00'], tickfont: axisFont},
  yaxis3: {domain: [0, pxY(581)], range: [-0.72, 0.912], side: 'right', anchor: 'x',
    showgrid: false, zeroline: false, ticks: '', tickmode: 'array', tickvals: [-0.5, 0.5],
    ticktext: [fmt(-0.5, 8), fmt(0.5, 8)], tickfont: axisFont},
  yaxis4: {overlaying: 'y', range: [LOG_MIN, LOG_MAX], visible: false, anchor: 'x2'},
  shapes, annotations: notes
};

Plotly.newPlot('chart', traces, layout, {displayModeBar: false, staticPlot: true});
</script>
</body>
</html>
